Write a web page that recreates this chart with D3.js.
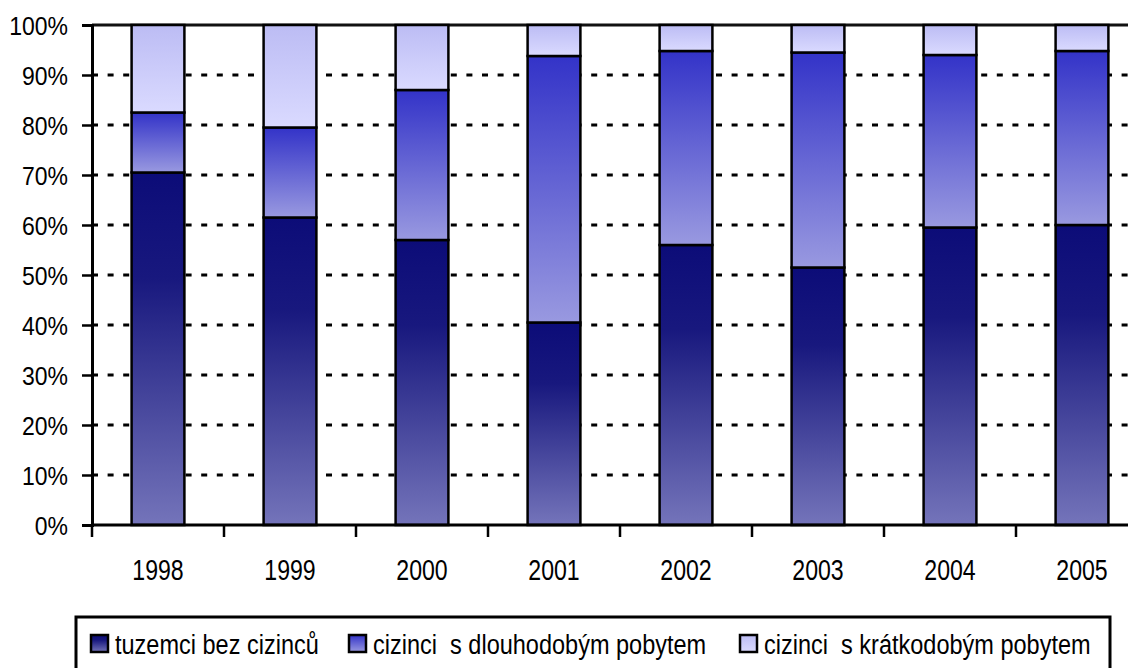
<!DOCTYPE html>
<html>
<head>
<meta charset="utf-8">
<script src="https://cdn.jsdelivr.net/npm/d3@7"></script>
<style>
  body { margin: 0; background: #fff; }
  svg text { font-family: "Liberation Sans", Arial, sans-serif; fill: #000; white-space: pre; }
</style>
</head>
<body>
<svg id="chart" width="1128" height="668"></svg>
<script>
// data
const years = ["1998", "1999", "2000", "2001", "2002", "2003", "2004", "2005"];
const seriesNames = ["tuzemci bez cizinců", "cizinci  s dlouhodobým pobytem", "cizinci  s krátkodobým pobytem"];
const domestic = [70.5, 61.5, 57.0, 40.5, 56.0, 51.5, 59.5, 60.0];
const longStay = [12.0, 18.0, 30.0, 53.3, 38.8, 43.0, 34.5, 34.8];
const shortStay = [17.5, 20.5, 13.0, 6.2, 5.2, 5.5, 6.0, 5.2];
const yTicks = [0, 10, 20, 30, 40, 50, 60, 70, 80, 90, 100];

// dimensions
const margin = {left: 92, top: 25};
const plotW = 132 * years.length; // runs past the right edge, as in the original
const plotH = 500;

// gradient stops per series (top colour, bottom colour)
const grads = [
  ["#0c0c78", "#7474ba"],
  ["#3333c8", "#9999e0"],
  ["#bcbcf4", "#dadaff"]
];

const svg = d3.select("#chart");
const defs = svg.append("defs");
grads.forEach((g, i) => {
  const lg = defs.append("linearGradient")
    .attr("id", "grad" + i)
    .attr("x1", 0).attr("y1", 0).attr("x2", 0).attr("y2", 1);
  lg.append("stop").attr("offset", "0%").attr("stop-color", g[0]);
  if (i === 0) lg.append("stop").attr("offset", "30%").attr("stop-color", "#18187e");
  lg.append("stop").attr("offset", "100%").attr("stop-color", g[1]);
});

// narrow text: the original font is condensed, so squeeze horizontally
function narrowText(sel, x, y, txt, size, sx, anchor) {
  return sel.append("text")
    .attr("transform", `translate(${x},${y}) scale(${sx},1)`)
    .attr("text-anchor", anchor || "start")
    .attr("font-size", size + "px")
    .text(txt);
}

/// scales ///
const x = d3.scaleBand()
  .domain(years)
  .range([margin.left, margin.left + plotW])
  .paddingInner(0.6)
  .paddingOuter(0.3);
const y = d3.scaleLinear()
  .domain([0, 100])
  .range([margin.top + plotH, margin.top]);

/// gridlines ///
svg.append("g")
  .selectAll("line")
  .data(yTicks.filter(d => d > 0 && d < 100))
  .join("line")
  .attr("x1", margin.left).attr("x2", margin.left + plotW)
  .attr("y1", d => y(d)).attr("y2", d => y(d))
  .attr("stroke", "#000")
  .attr("stroke-width", 3)
  .attr("stroke-dasharray", "6,9.6");
// top line at 100%
svg.append("line")
  .attr("x1", margin.left).attr("x2", margin.left + plotW)
  .attr("y1", y(100)).attr("y2", y(100))
  .attr("stroke", "#111").attr("stroke-width", 3);

/// stacked bars ///
const table = years.map((yr, i) => ({year: yr, a: domestic[i], b: longStay[i], c: shortStay[i]}));
const stack = d3.stack().keys(["a", "b", "c"])(table);

svg.append("g")
  .selectAll("g")
  .data(stack)
  .join("g")
  .attr("fill", (d, i) => `url(#grad${i})`)
  .selectAll("rect")
  .data(d => d)
  .join("rect")
  .attr("x", d => x(d.data.year))
  .attr("width", x.bandwidth())
  .attr("y", d => y(d[1]))
  .attr("height", d => y(d[0]) - y(d[1]))
  .attr("stroke", "#000")
  .attr("stroke-width", 2.5);

/// axes ///
svg.append("g")
  .attr("transform", `translate(${margin.left},0)`)
  .call(d3.axisLeft(y).tickValues(yTicks).tickFormat("").tickSize(10))
  .call(g => g.selectAll("line").attr("stroke", "#000").attr("stroke-width", 2.5))
  .call(g => g.select(".domain").attr("stroke", "#000").attr("stroke-width", 3));
const yLab = svg.append("g");
yTicks.forEach(t => narrowText(yLab, 68, y(t) + 10, t + "%", 25, 0.92, "end"));

// x axis ticks sit between categories
const xTickPos = d3.range(years.length + 1).map(i => margin.left + i * x.step());
const xAxisG = svg.append("g");
xAxisG.append("line")
  .attr("x1", margin.left).attr("x2", margin.left + plotW)
  .attr("y1", y(0)).attr("y2", y(0))
  .attr("stroke", "#000").attr("stroke-width", 3);
xAxisG.selectAll(".xtick")
  .data(xTickPos)
  .join("line")
  .attr("x1", d => d).attr("x2", d => d)
  .attr("y1", y(0)).attr("y2", y(0) + 12)
  .attr("stroke", "#000").attr("stroke-width", 2.5);
years.forEach(yr => narrowText(xAxisG, x(yr) + x.bandwidth() / 2, 580, yr, 30, 0.77, "middle"));

/// legend ///
const legend = svg.append("g");
legend.append("rect")
  .attr("x", 76).attr("y", 617)
  .attr("width", 1034).attr("height", 70)
  .attr("fill", "#fff")
  .attr("stroke", "#000").attr("stroke-width", 3);
const legendX = [91, 349, 740];
seriesNames.forEach((name, i) => {
  legend.append("rect")
    .attr("x", legendX[i]).attr("y", 635)
    .attr("width", 17).attr("height", 17)
    .attr("fill", `url(#grad${i})`)
    .attr("stroke", "#000").attr("stroke-width", 2.5);
  narrowText(legend, legendX[i] + 24, 654, name, 28, 0.84);
});
</script>
</body>
</html>
